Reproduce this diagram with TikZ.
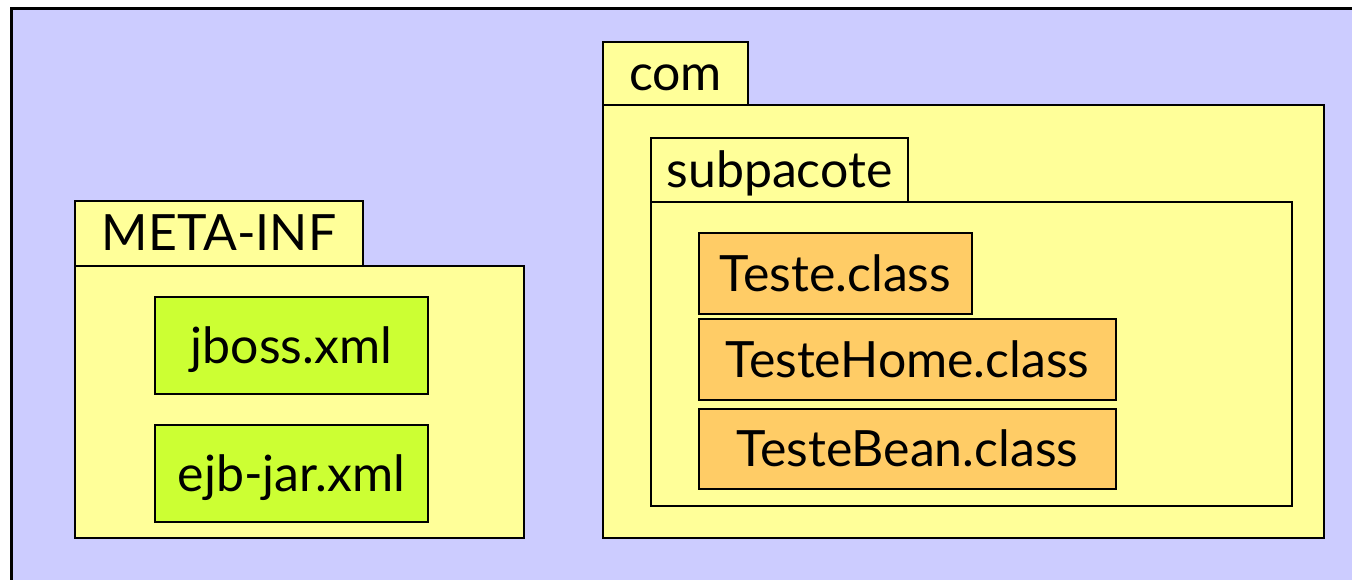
\documentclass[tikz,border=0pt]{standalone}
\usepackage{fontspec}
\setmainfont{Lato}
\definecolor{lavender}{HTML}{CCCCFF}
\definecolor{pkgyellow}{HTML}{FFFF99}
\definecolor{xmlgreen}{HTML}{CCFF33}
\definecolor{classorange}{HTML}{FFCC66}
\begin{document}
\begin{tikzpicture}[x=1pt,y=-1pt,
  box/.style={draw=black, line width=2.6pt, rectangle, inner sep=0pt, outer sep=0pt,
    anchor=north west, font=\fontsize{50}{60}\selectfont, text height=35pt, text depth=0pt},
  pkg/.style={box, fill=pkgyellow},
  xmlfile/.style={box, fill=xmlgreen},
  classfile/.style={box, fill=classorange}]
  \useasboundingbox (0,0) rectangle (1352,580);
  \clip (0,0) rectangle (1352,580);
  \fill[white] (0,0) rectangle (1352,580);
  % jar root area, running off the page at the right and bottom
  \draw[line width=3pt, fill=lavender] (11,9) rectangle (1380,610);

  % META-INF package
  \node[pkg, minimum width=449pt, minimum height=272pt] (metabody) at (75,266) {};
  \node[pkg, minimum width=288pt, minimum height=65pt] (metatab) at (75,201) {META-INF};
  \node[xmlfile, minimum width=273pt, minimum height=97pt] (jboss) at (155,297) {jboss.xml};
  \node[xmlfile, minimum width=273pt, minimum height=97pt] (ejbjar) at (155,425) {ejb-jar.xml};

  % com package
  \node[pkg, minimum width=721pt, minimum height=433pt] (combody) at (603,105) {};
  \node[pkg, minimum width=145pt, minimum height=63pt] (comtab) at (603,42) {com};

  % subpacote package
  \node[pkg, minimum width=641pt, minimum height=304pt] (subbody) at (651,202) {};
  \node[pkg, minimum width=257pt, minimum height=64pt] (subtab) at (651,138) {subpacote};

  % class files
  \node[classfile, minimum width=273pt, minimum height=81pt] (teste) at (699,233) {Teste.class};
  \node[classfile, minimum width=417pt, minimum height=81pt] (home) at (699,319) {TesteHome.class};
  \node[classfile, minimum width=417pt, minimum height=80pt] (bean) at (699,409) {TesteBean.class};
\end{tikzpicture}
\end{document}
